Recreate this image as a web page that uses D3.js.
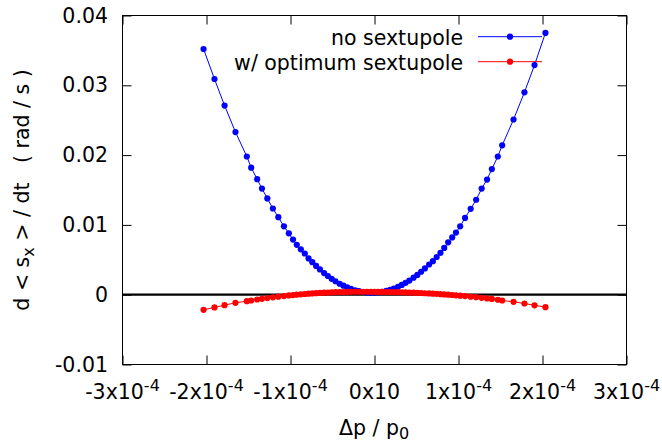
<!DOCTYPE html>
<html>
<head>
<meta charset="utf-8">
<script src="https://cdn.jsdelivr.net/npm/d3@7"></script>
<style>
  body { margin: 0; background: #fff; }
  text { font-family: "DejaVu Sans", sans-serif; white-space: pre; }
</style>
</head>
<body>
<svg width="662" height="445"></svg>
<script>
// Δp / p0, in units of 1e-4
const dp = [-2.035, -1.905, -1.785, -1.655, -1.52, -1.468, -1.397, -1.34, -1.276, -1.21,
  -1.145, -1.078, -1.02, -0.97, -0.925, -0.877, -0.83, -0.785, -0.74, -0.695,
  -0.65, -0.6, -0.555, -0.51, -0.465, -0.415, -0.37, -0.325, -0.28, -0.23,
  -0.185, -0.14, -0.09, -0.045, 0,
  0.045, 0.09, 0.14, 0.185, 0.23, 0.28, 0.325, 0.37, 0.415, 0.465,
  0.51, 0.555, 0.6, 0.65, 0.695, 0.74, 0.785, 0.83, 0.877, 0.925,
  0.97, 1.02, 1.078, 1.145, 1.21, 1.276, 1.34, 1.397, 1.468, 1.52,
  1.655, 1.785, 1.905, 2.035];

// d<s_x>/dt (rad/s)
const noSextupole = [0.0352, 0.0309, 0.0271, 0.0233, 0.0198, 0.0182, 0.01655, 0.0152, 0.0138, 0.01235,
  0.0111, 0.0098, 0.0088, 0.0079, 0.00715, 0.0065, 0.0059, 0.0052, 0.00466, 0.00412,
  0.00362, 0.0031, 0.00268, 0.00228, 0.00193, 0.00157, 0.00129, 0.00104, 0.00083, 0.00063,
  0.0005, 0.00039, 0.00032, 0.00029, 0.0003,
  0.00034, 0.00042, 0.00055, 0.0007, 0.00089, 0.00114, 0.0014, 0.0017, 0.00203, 0.00244,
  0.00284, 0.00329, 0.00376, 0.00433, 0.0048, 0.0054, 0.006, 0.0067, 0.0075, 0.0082,
  0.0089, 0.0098, 0.011, 0.0123, 0.0136, 0.0152, 0.0165, 0.018, 0.0198, 0.0214,
  0.0251, 0.029, 0.0329, 0.0375];

const optSextupole = [-0.00216, -0.00183, -0.0015, -0.00116, -0.00093, -0.00083, -0.00069, -0.00059, -0.00048, -0.00038,
  -0.00028, -0.00019, -0.00011, -0.00005, 0, 0.00005, 0.0001, 0.00014, 0.00018, 0.00022,
  0.00025, 0.00029, 0.00031, 0.00034, 0.00036, 0.00038, 0.00039, 0.0004, 0.00041, 0.00042,
  0.00042, 0.00042, 0.00042, 0.00041, 0.0004,
  0.0004, 0.0004, 0.00039, 0.00038, 0.00037, 0.00036, 0.00035, 0.00033, 0.00031, 0.00029,
  0.00026, 0.00024, 0.00021, 0.00018, 0.00015, 0.00012, 0.00008, 0.00004, 0, -0.00004,
  -0.00009, -0.00014, -0.0002, -0.00028, -0.00036, -0.00045, -0.00053, -0.00061, -0.00072, -0.00083,
  -0.00102, -0.00126, -0.00152, -0.00179];

const seriesNames = ['no sextupole', 'w/ optimum sextupole'];
const seriesColors = ['#0000ff', '#ff0000'];

const xTicks = [-3, -2, -1, 0, 1, 2, 3];
const xTickLabels = [['-3x10', '-4'], ['-2x10', '-4'], ['-1x10', '-4'], ['0x10', ''],
  ['1x10', '-4'], ['2x10', '-4'], ['3x10', '-4']];
const yTicks = [-0.01, 0, 0.01, 0.02, 0.03, 0.04];
const yTickLabels = ['-0.01', '0', '0.01', '0.02', '0.03', '0.04'];

const svg = d3.select('svg');
const fs = 20.5;
const plotL = 122.5, plotR = 626.5, plotT = 15.5, plotB = 364.5;

const x = d3.scaleLinear().domain([-3, 3]).range([plotL, plotR]);
const y = d3.scaleLinear().domain([-0.01, 0.04]).range([plotB, plotT]);

svg.append('rect').attr('width', 662).attr('height', 445).attr('fill', '#fff');

// zero axis
svg.append('line')
    .attr('x1', plotL).attr('x2', plotR)
    .attr('y1', y(0)).attr('y2', y(0))
    .attr('stroke', '#000').attr('stroke-width', 2.2);

// ticks, all four sides, pointing inward
const tickLen = 9;
const axes = [
    [d3.axisBottom(x).tickValues(xTicks), `translate(0,${plotB})`],
    [d3.axisTop(x).tickValues(xTicks), `translate(0,${plotT})`],
    [d3.axisLeft(y).tickValues(yTicks), `translate(${plotL},0)`],
    [d3.axisRight(y).tickValues(yTicks), `translate(${plotR},0)`]
];
axes.forEach(([ax, tr]) => {
    const g = svg.append('g').attr('transform', tr)
        .call(ax.tickSize(-tickLen).tickFormat(''));
    g.select('.domain').remove();
    g.selectAll('line').attr('stroke', '#000').attr('stroke-width', 1);
});

svg.append('rect')
    .attr('x', plotL).attr('y', plotT)
    .attr('width', plotR - plotL).attr('height', plotB - plotT)
    .attr('fill', 'none').attr('stroke', '#000').attr('stroke-width', 1);

// tick labels
xTicks.forEach((v, i) => {
    const t = svg.append('text')
        .attr('x', x(v)).attr('y', 399)
        .attr('text-anchor', 'middle')
        .attr('font-size', fs);
    t.append('tspan').text(xTickLabels[i][0]);
    if (xTickLabels[i][1]) {
        t.append('tspan').attr('dy', -8).attr('font-size', 16).text(xTickLabels[i][1]);
    }
});

yTicks.forEach((v, i) => {
    svg.append('text')
        .attr('x', 108).attr('y', y(v) + 7)
        .attr('text-anchor', 'end')
        .attr('font-size', fs)
        .text(yTickLabels[i]);
});

// axis titles
const xt = svg.append('text')
    .attr('x', 374).attr('y', 435)
    .attr('text-anchor', 'middle').attr('font-size', fs);
xt.append('tspan').text('Δp / p');
xt.append('tspan').attr('dy', 4).attr('font-size', 16).text('0');

const yt = svg.append('text')
    .attr('transform', 'translate(29,190) rotate(-90)')
    .attr('text-anchor', 'middle').attr('font-size', fs);
yt.append('tspan').text('d < s');
yt.append('tspan').attr('dy', 5).attr('font-size', 16).text('x');
yt.append('tspan').attr('dy', -5).text(' > / dt   ( rad / s )');

// series
const series = [noSextupole, optSextupole];
const line = d3.line().x(d => x(d[0])).y(d => y(d[1]));
const r = 3.1;

series.forEach((vals, k) => {
    const pts = dp.map((d, i) => [d, vals[i]]);
    const col = seriesColors[k];
    const ly = 36.7 + k * 25;

    // key entry
    svg.append('text')
        .attr('x', 463).attr('y', ly + 8)
        .attr('text-anchor', 'end').attr('font-size', fs)
        .text(seriesNames[k]);
    svg.append('line')
        .attr('x1', 478).attr('x2', 542)
        .attr('y1', ly).attr('y2', ly)
        .attr('stroke', col).attr('stroke-width', 1);
    svg.append('circle')
        .attr('cx', 510).attr('cy', ly).attr('r', r).attr('fill', col);

    svg.append('path')
        .datum(pts)
        .attr('d', line)
        .attr('fill', 'none').attr('stroke', col).attr('stroke-width', 1);

    svg.append('g').selectAll('circle')
        .data(pts).enter().append('circle')
        .attr('cx', d => x(d[0]))
        .attr('cy', d => y(d[1]))
        .attr('r', r)
        .attr('fill', col);
});
</script>
</body>
</html>
